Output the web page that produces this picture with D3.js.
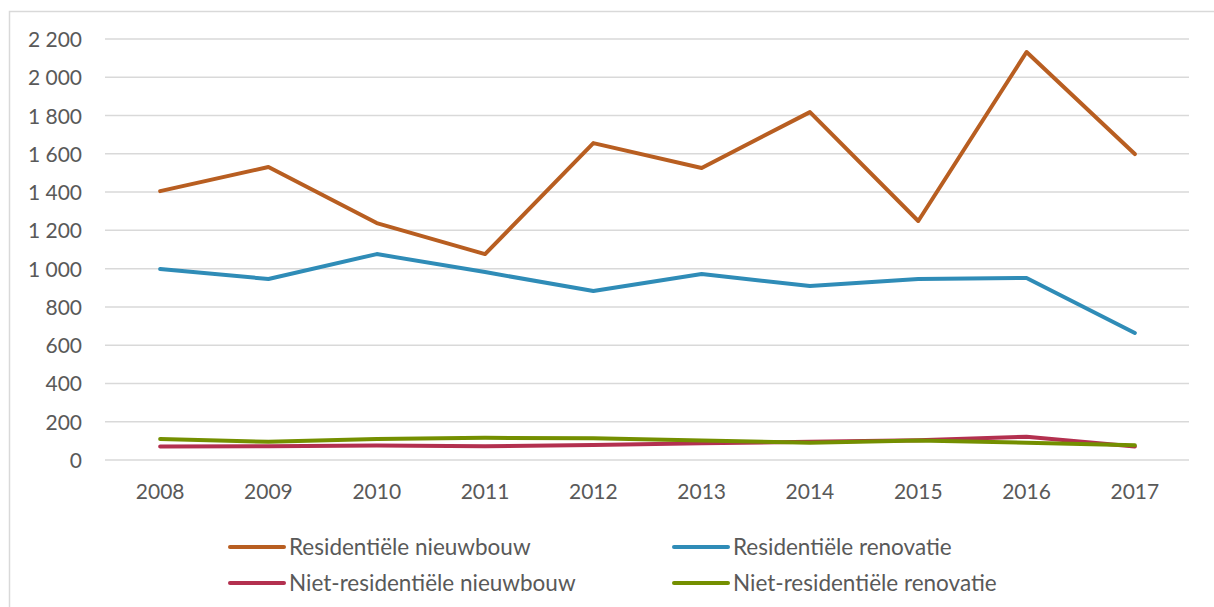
<!DOCTYPE html>
<html>
<head>
<meta charset="utf-8">
<script src="https://cdn.jsdelivr.net/npm/d3@7"></script>
<style>
  body { margin: 0; background: #fff; }
  svg { display: block; font-family: Lato, "Open Sans", sans-serif; }
</style>
</head>
<body>
<div id="chart"></div>
<script>
// data
var years = ["2008","2009","2010","2011","2012","2013","2014","2015","2016","2017"];
var resNieuwbouw = [1405, 1531, 1238, 1076, 1656, 1526, 1818, 1249, 2132, 1599];
var resRenovatie = [998, 946, 1076, 982, 883, 972, 909, 946, 951, 664];
var nietResNieuwbouw = [70, 72, 76, 72, 79, 88, 95, 103, 122, 70];
var nietResRenovatie = [110, 95, 110, 116, 114, 102, 90, 102, 90, 77];
var seriesNames = ["Residentiële nieuwbouw", "Residentiële renovatie", "Niet-residentiële nieuwbouw", "Niet-residentiële renovatie"];
var yTicks = [0, 200, 400, 600, 800, 1000, 1200, 1400, 1600, 1800, 2000, 2200];

var series = [
  { name: seriesNames[0], values: resNieuwbouw, color: "#b85e21" },
  { name: seriesNames[1], values: resRenovatie, color: "#2f8cb7" },
  { name: seriesNames[2], values: nietResNieuwbouw, color: "#b3304f" },
  { name: seriesNames[3], values: nietResRenovatie, color: "#748f00" }
];

var width = 1214, height = 607;
var svg = d3.select("#chart").append("svg")
    .attr("width", width)
    .attr("height", height);

// outer frame (left + top)
svg.append("path")
    .attr("d", "M9.5,620 V11.5 H1220")
    .attr("fill", "none")
    .attr("stroke", "#d9d9d9")
    .attr("stroke-width", 1.5);

var x = d3.scaleBand().domain(years).range([106, 1189]);
var y = d3.scaleLinear().domain([0, 2200]).range([460, 39]);

// gridlines
svg.append("g")
  .selectAll("line")
  .data(yTicks)
  .join("line")
    .attr("x1", 105).attr("x2", 1189)
    .attr("y1", d => y(d)).attr("y2", d => y(d))
    .attr("stroke", "#d9d9d9")
    .attr("stroke-width", 1.5);

// y labels  (thin space as thousands separator)
svg.append("g")
  .selectAll("text")
  .data(yTicks)
  .join("text")
    .attr("x", 82)
    .attr("y", d => y(d) + 8)
    .attr("text-anchor", "end")
    .attr("fill", "#595959")
    .style("font-size", "21px")
    .text(d => d >= 1000 ? Math.floor(d / 1000) + " " + d3.format("03")(d % 1000) : d);

// x labels
svg.append("g")
  .selectAll("text")
  .data(years)
  .join("text")
    .attr("x", d => x(d) + x.bandwidth() / 2)
    .attr("y", 499)
    .attr("text-anchor", "middle")
    .attr("fill", "#595959")
    .style("font-size", "21px")
    .text(d => d);

var line = d3.line()
    .x((d, i) => x(years[i]) + x.bandwidth() / 2)
    .y(d => y(d));

svg.append("g")
  .selectAll("path")
  .data(series)
  .join("path")
    .attr("d", d => line(d.values))
    .attr("fill", "none")
    .attr("stroke", d => d.color)
    .attr("stroke-width", 4)
    .attr("stroke-linejoin", "round")
    .attr("stroke-linecap", "round");

// legend
var legendPos = [[230, 547], [674, 547], [230, 583], [674, 583]];
var lg = svg.append("g")
  .selectAll("g")
  .data(series)
  .join("g")
    .attr("transform", (d, i) => `translate(${legendPos[i][0]},${legendPos[i][1]})`);

lg.append("line")
    .attr("x1", 0).attr("x2", 54)
    .attr("stroke", d => d.color)
    .attr("stroke-width", 4)
    .attr("stroke-linecap", "round");

lg.append("text")
    .attr("x", 59)
    .attr("y", 8)
    .attr("fill", "#595959")
    .style("font-size", "22.5px")
    .text(d => d.name);
</script>
</body>
</html>
